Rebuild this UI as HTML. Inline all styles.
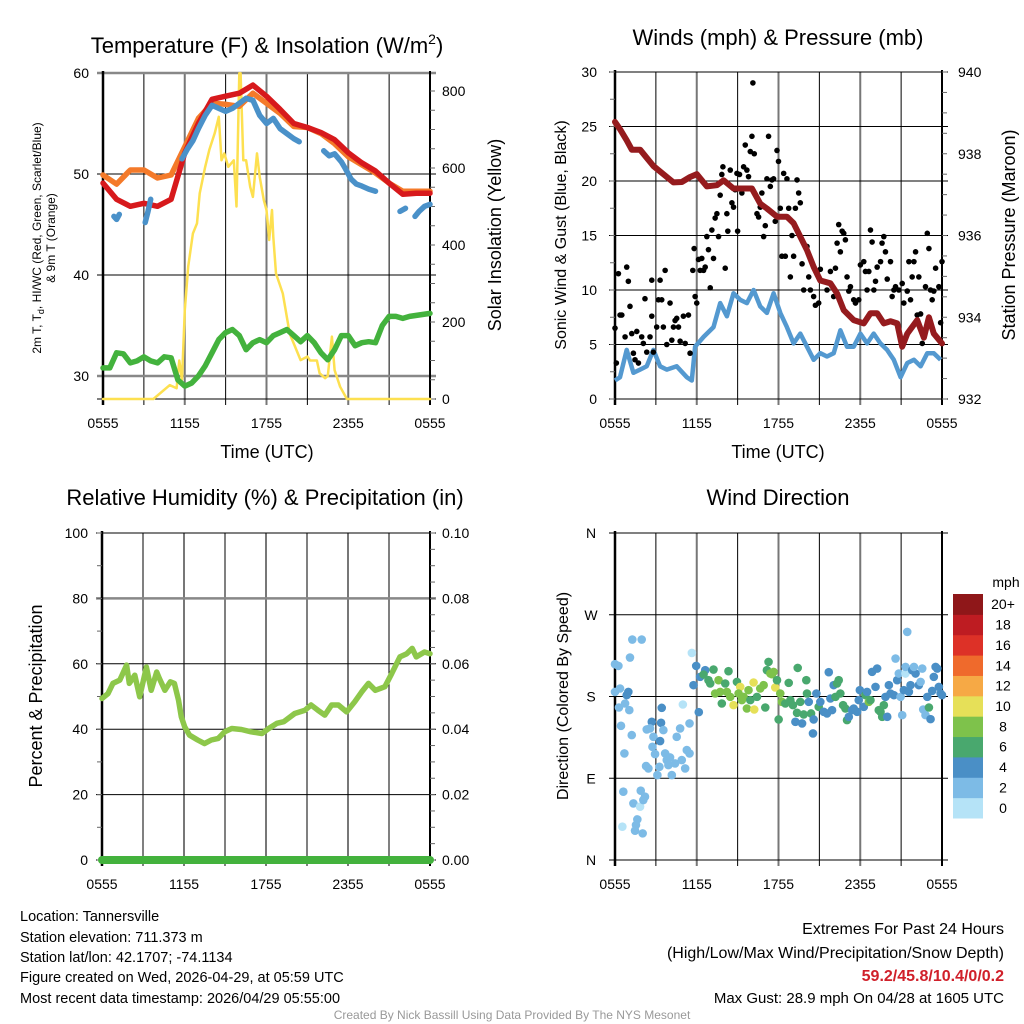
<!DOCTYPE html>
<html><head><meta charset="utf-8">
<style>
html,body{margin:0;padding:0;background:#fff;}
svg{display:block;font-family:"Liberation Sans",Arial,sans-serif;}
</style></head>
<body>
<svg id="chart" width="1024" height="1024" viewBox="0 0 1024 1024" xmlns="http://www.w3.org/2000/svg">
<rect width="1024" height="1024" fill="#fff"/>
<g id="g1"></g>
<g id="g2"></g>
<g id="g3"></g>
<g id="g4"></g>
<g font-size="22" text-anchor="middle" fill="#000">
<text x="267" y="53">Temperature (F) &amp; Insolation (W/m<tspan font-size="14" dy="-9">2</tspan><tspan dy="9">)</tspan></text>
<text x="778" y="45">Winds (mph) &amp; Pressure (mb)</text>
<text x="265" y="505">Relative Humidity (%) &amp; Precipitation (in)</text>
<text x="778" y="505">Wind Direction</text>
</g>
<g font-size="14.5" fill="#000">
<text x="20" y="921">Location: Tannersville</text>
<text x="20" y="942">Station elevation: 711.373 m</text>
<text x="20" y="962">Station lat/lon: 42.1707; -74.1134</text>
<text x="20" y="982">Figure created on Wed, 2026-04-29, at 05:59 UTC</text>
<text x="20" y="1003">Most recent data timestamp: 2026/04/29 05:55:00</text>
</g>
<g font-size="16" text-anchor="end" fill="#000">
<text x="1004" y="934">Extremes For Past 24 Hours</text>
<text x="1004" y="958">(High/Low/Max Wind/Precipitation/Snow Depth)</text>
<text x="1004" y="981" fill="#d0202a" font-weight="bold">59.2/45.8/10.4/0/0.2</text>
<text x="1004" y="1003" font-size="15">Max Gust: 28.9 mph On 04/28 at 1605 UTC</text>
</g>
<text x="512" y="1019" font-size="12" fill="#999" text-anchor="middle">Created By Nick Bassill Using Data Provided By The NYS Mesonet</text>
</svg>
<script>
// ---------- Panel 1 data ----------
const tempT=[0,1,2,3,4,5,6,7,8,9,10,11,12,13,14,15,16,17,18,19,20,21,22,23,24];
const tempV=[49.1,47.5,46.8,47.1,46.8,47.5,52.1,55,57.4,57.7,58,58.8,57.7,56.4,55,54.6,54.1,53.4,52.1,51.1,50.3,49.1,48,48.1,48.1];
const t9mV=[49.9,49,50.4,50.4,49.6,49.9,52.7,55.5,57,56.9,56.7,58,57,56,54.7,54.6,54,53,51.7,50.9,50.1,49.1,48.3,48.3,48.3];
const hiT=[0.8,1.0,1.2,1.3,3.1,3.3,3.5,3.6,5.8,6.2,6.6,7,7.5,8,8.5,9,9.5,10,10.5,11,11.5,12,12.5,13,13.5,14,14.4,14.5,16.2,16.6,17,17.5,17.8,18.2,18.6,19,19.5,20,20.1,21.8,22.2,22.3,22.9,23.2,23.6,24];
const hiV=[45.8,45.5,46.0,null,45.2,46.3,47.5,null,51.5,52.5,53.3,54.5,55.8,56.8,56.5,56.2,56.5,57,57.5,57.3,55.8,55,55.5,54.5,54,53.5,53.2,null,52.3,51.8,52,51.2,50.5,49.5,49,48.8,48.5,48.3,null,46.3,46.6,null,45.8,46.3,46.8,47.0];
const dewT=[0,0.5,1,1.5,2,2.5,3,3.5,4,4.5,5,5.5,6,6.5,7,7.5,8,8.5,9,9.5,10,10.5,11,11.5,12,12.5,13,13.5,14,14.5,15,15.5,16,16.5,17,17.5,18,18.5,19,19.5,20,20.5,21,21.5,22,22.5,23,24];
const dewV=[30.8,30.8,32.3,32.2,31.3,31.5,31.9,31.5,31.3,31.9,31.8,29.6,29,29.3,30,31,32.3,33.6,34.3,34.6,34,32.6,33.3,33.6,33.3,34,34.3,34.6,34,33.4,34,33.3,32.3,31.6,32.6,34,34,33,33.3,33.4,33.3,35,35.9,35.9,35.7,35.9,36,36.2];
const solT=[0,3.7,4.9,5.4,5.6,5.8,6.0,6.25,6.6,6.9,7.1,7.5,7.8,8.2,8.5,8.7,8.9,9.2,9.6,9.8,10.0,10.1,10.3,10.5,10.8,11.0,11.3,11.5,11.8,12.0,12.2,12.4,12.5,12.7,13.2,13.7,14.5,15.0,15.2,15.7,15.9,16.3,16.5,16.8,17.0,17.4,17.9,24];
const solV=[0,0,36,28,100,50,231,344,430,456,534,603,647,690,733,620,638,603,620,500,846,846,620,620,551,525,638,577,517,491,413,491,421,326,274,170,101,110,100,100,67,54,60,162,75,32,0,0];
const xTickLabels=["0555","1155","1755","2355","0555"];
// ---------- Panel 2 data ----------
const presT=[0,0.37,0.86,1.23,1.84,2.33,2.82,3.55,4.29,4.9,5.51,6.0,6.74,7.48,7.97,8.7,9.44,10.05,10.66,11.15,11.89,12.62,13.11,13.6,14.09,14.58,15.07,15.81,16.3,16.79,17.52,18.26,18.75,19.24,19.73,20.22,20.71,21.08,21.45,22.18,22.67,23.04,23.4,24];
const presV=[938.78,938.6,938.33,938.1,938.1,937.9,937.7,937.5,937.3,937.31,937.43,937.5,937.2,937.23,937.35,937.15,937.15,937.15,936.78,936.66,936.46,936.46,936.3,935.97,935.64,935.23,934.9,934.83,934.58,934.17,933.93,933.85,934.1,934.1,933.85,933.9,933.85,933.28,933.6,933.93,933.5,934.0,933.6,933.36];
const windT=[0,0.37,0.86,1.35,1.84,2.33,2.82,3.31,3.8,4.53,5.27,5.64,5.88,6.5,7.23,7.72,8.21,8.7,9.19,9.68,10.17,10.66,11.15,11.64,12.13,12.62,13.11,13.6,14.09,14.58,15.07,15.56,16.05,16.54,17.03,17.52,18.01,18.5,18.99,19.48,19.97,20.46,20.96,21.45,21.94,22.43,22.92,23.4,23.9];
const windV=[1.7,2,4.5,2.4,2.7,3,4.5,3,2.7,3,2,1.7,4.8,5.7,6.6,8.8,7.6,9.7,9.1,8.8,10,8.5,7.9,9.7,7.9,6.6,5.1,6,4.8,3.6,4.2,3.9,4.2,6.3,4.8,4.8,6,5.1,6,5.1,4.5,3.6,2,3.3,3.6,3,4.2,4.2,3.6];
const gustT=[0,0.1,0.25,0.37,0.5,0.74,0.86,0.98,1.1,1.23,1.35,1.47,1.6,1.72,1.96,2.08,2.2,2.33,2.57,2.7,2.7,2.82,3.06,3.19,3.31,3.43,3.55,3.68,3.8,4.04,4.17,4.29,4.41,4.53,4.66,4.78,5.02,5.15,5.39,5.51,5.71,5.81,5.88,6.0,6.13,6.25,6.37,6.5,6.62,6.74,6.86,6.99,7.11,7.23,7.35,7.48,7.6,7.72,7.84,7.92,8.09,8.21,8.28,8.46,8.58,8.7,8.82,8.95,9.0,9.14,9.31,9.44,9.56,9.68,9.8,9.93,10.05,10.12,10.22,10.42,10.54,10.66,10.78,10.91,11.03,11.15,11.27,11.4,11.52,11.64,11.76,11.89,12.0,12.13,12.25,12.38,12.5,12.62,12.75,12.87,12.99,13.11,13.24,13.36,13.48,13.6,13.73,13.85,14.09,14.22,14.34,14.58,14.71,14.95,15.07,15.56,15.81,16.05,16.18,16.3,16.42,16.54,16.67,16.79,16.91,17.03,17.16,17.28,17.52,17.65,17.89,18.01,18.26,18.38,18.5,18.63,18.75,18.87,19.0,19.12,19.24,19.49,19.6,19.73,19.85,19.98,20.22,20.34,20.47,20.59,20.83,21.08,21.2,21.45,21.57,21.69,21.81,21.94,22.06,22.18,22.3,22.43,22.55,22.79,22.92,23.04,23.16,23.28,23.4,23.53,23.77,23.9,24];
const gustV=[6.5,3.3,11.5,7.7,7.7,5.7,12.1,10.8,8.5,6.0,4.2,3.6,6.2,3.3,5.7,5.1,9.2,4.3,5.7,10.9,7.6,4.3,6.6,9.1,10.9,9.1,6.6,11.8,5.0,8.8,5.4,6.6,7.2,7.4,6.6,5.3,7.6,5.1,7.7,4.2,11.8,13.8,9.4,8.8,12.8,11.8,12.9,11.8,12.1,14.9,13.7,10.2,15.5,12.9,16.6,17.0,14.9,18.7,20.6,21.3,12.0,17.0,15.4,21.0,18.0,17.6,19.2,20.7,15.4,20.6,18.9,21.3,23.3,21.0,20.4,22.7,24.1,29.0,22.5,17.0,16.7,17.6,18.9,14.9,15.9,20.2,24.1,19.5,20.1,20.2,16.3,22.8,21.8,17.5,13.1,20.7,13.1,20.2,17.5,11.2,15.0,13.1,17.5,20.1,18.9,18.0,12.4,10.0,14.0,11.2,10.0,9.4,8.6,8.8,11.9,10.0,11.7,9.4,12.0,14.3,16.0,13.5,15.4,15.2,14.6,11.2,9.9,10.3,9.1,8.8,9.1,12.3,12.6,11.7,10.0,11.7,15.5,14.4,10.0,10.8,12.1,12.6,14.3,14.9,13.5,11.0,12.6,9.4,10.0,10.3,10.0,10.6,8.8,9.9,12.6,9.1,11.2,12.6,13.5,7.7,11.2,7.8,5.1,10.3,15.2,13.8,10.0,9.1,9.9,12.0,10.3,7.0,12.6];
// ---------- Panel 3 data ----------
const rhT=[0,0.44,0.8,1.3,1.8,2.0,2.4,2.76,3.25,3.6,4,4.2,4.6,5,5.3,5.6,5.8,6.05,6.4,7.0,7.5,8.0,8.5,8.98,9.5,10.2,10.9,11.7,12.2,12.8,13.3,14.1,14.85,15.3,15.8,16.3,16.8,17.3,17.9,18.5,19.0,19.5,20,20.7,21.2,21.8,22.3,22.7,23.0,23.6,24];
const rhV=[49.4,50.9,54,55,59.6,54,56.5,49.9,59,51.9,57.5,55.5,51.9,54.5,54,48.9,43.8,40.7,38.2,36.7,35.6,36.7,37.2,39.2,40.2,39.9,39.2,38.7,40.2,41.8,42.3,44.8,45.8,47.4,45.8,44.3,47.4,47.4,45.3,48.4,51.4,54,51.9,53,57,62.1,63.1,64.7,62.1,63.6,63.1];
const precipT=[0,24];
const precipV=[0,0];
// ---------- Panel 4 data ----------
const dirT=[0,0.25,0,0.37,0.98,0.86,0.29,0.74,1.05,1.1,1.27,1.96,0.44,1.23,0.69,0.61,1.89,1.35,1.84,2.2,2.08,1.64,1.54,1.47,2.03,0.54,2.7,2.33,2.57,2.82,3.38,3.43,3.31,2.75,2.94,2.28,2.45,3.11,3.26,3.55,3.68,3.8,4.04,4.17,3.92,4.41,4.53,4.78,4.9,5.15,5.27,5.47,5.47,5.64,4.98,
5.96,5.76,6.15,6.25,6.62,6.5,6.86,7.23,6.99,7.35,7.6,7.72,7.84,8.09,8.21,8.33,8.46,8.7,8.95,9.19,9.07,9.31,9.44,9.68,9.8,9.93,10.17,10.22,10.42,10.66,10.91,11.03,11.15,11.27,11.4,11.52,11.64,11.76,11.89,12.01,12.13,12.25,12.5,12.75,12.87,13.06,13.24,13.36,13.41,13.6,13.73,13.85,14.04,14.09,14.22,14.39,14.53,14.58,14.78,14.95,15.07,15.32,15.56,15.69,15.81,15.93,16.05,16.18,16.3,16.42,16.54,16.74,16.91,17.03,17.16,17.4,17.52,17.77,17.89,17.97,18.26,18.38,18.5,18.63,18.75,18.87,19.12,19.24,19.36,19.61,19.49,19.73,19.85,19.98,20.1,20.22,20.47,20.59,20.71,20.83,20.96,21.08,21.2,21.32,21.45,21.32,21.57,21.69,21.81,22.06,21.94,22.3,22.43,22.55,22.62,22.79,22.92,23.04,23.16,23.28,23.4,23.53,23.65,23.77,23.9,24];
const dirV=[215.6,213.7,185.1,188.8,185.1,181.5,167.9,172.3,165.0,222.9,242.7,242.7,147.7,137.5,117.3,75.2,76.3,62.3,58.7,69.7,66.0,44.7,38.5,32.3,29.3,36.7,152.1,143.7,144.8,135.6,151.0,167.5,130.9,124.6,116.6,103.4,100.8,93.5,102.6,143.0,117.3,110.0,112.9,93.5,104.5,106.3,135.6,144.8,110.0,100.8,121.0,150.3,117.3,228.0,171.2,
213.7,192.5,162.8,201.6,209.0,204.2,198.0,209.7,194.3,183.3,198.0,185.1,172.3,194.3,185.1,207.9,179.6,170.5,196.1,190.6,183.3,176.0,179.6,166.8,187.0,176.0,195.4,165.7,179.6,188.8,192.5,167.9,209.0,218.1,205.3,204.6,207.1,189.9,198.0,154.7,183.3,174.1,172.3,195.0,176.0,170.5,152.1,162.0,211.5,174.1,150.3,160.2,198.0,183.3,174.1,161.3,139.3,154.7,183.3,168.6,174.1,163.1,161.3,206.8,177.8,165.0,192.5,179.6,194.3,198.0,183.3,170.5,166.8,154.0,157.6,165.0,166.8,163.1,176.0,187.0,168.6,181.5,185.1,174.1,176.0,207.1,190.6,210.8,165.0,157.6,163.1,170.5,179.6,157.6,192.5,183.3,181.5,221.8,198.0,205.3,179.6,159.5,187.0,205.3,251.1,212.6,185.1,192.5,209.0,205.3,212.6,192.5,196.1,210.8,165.7,159.5,179.6,167.9,155.1,186.2,201.6,212.6,210.8,190.6,183.3,181.5];
const dirSpd=[3,3,3,3,5,5,3,3,3,3,3,3,3,3,3,3,3,3,1,3,3,3,3,3,3,1,5,3,3,3,5,5,5,3,3,3,3,3,3,3,3,3,3,3,3,3,3,3,3,3,3,3,3,1,1,
5,5,5,5,5,7,7,7,7,9,9,9,7,7,9,7,9,11,7,11,9,9,9,9,9,7,11,11,7,9,9,7,7,7,9,9,9,11,7,7,9,9,7,7,7,7,5,7,7,7,5,7,7,7,5,7,5,5,5,7,5,5,5,5,5,5,5,7,7,7,7,7,7,7,5,5,5,5,5,5,5,7,5,9,7,5,5,5,7,7,7,7,5,5,5,5,5,3,5,3,3,3,5,1,3,3,5,5,5,5,3,5,3,3,3,3,5,7,5,5,5,5,5,5,5,5];
const spdBins=[0,2,4,6,8,10,12,14,16,18,20];
const spdLabels=["0","2","4","6","8","10","12","14","16","18","20+"];
const spdColors=["#b5e3f7","#7dbbe6","#4a8fc6","#49a86e","#7ec24b","#e6e058","#f6a945","#ef6a2c","#dd3127","#be1c22","#8f1719"];
const dirLabels=["N","E","S","W","N"];

const NS="http://www.w3.org/2000/svg";
function mk(parent,tag,attrs){const e=document.createElementNS(NS,tag);for(const k in attrs)e.setAttribute(k,attrs[k]);parent.appendChild(e);return e;}
function lin(d0,d1,r0,r1){return v=>r0+(v-d0)/(d1-d0)*(r1-r0);}
function pathOf(ts,vs,xs,ys){let d="",pen=false;for(let i=0;i<ts.length;i++){if(vs[i]===null){pen=false;continue;}d+=(pen?"L":"M")+xs(ts[i]).toFixed(1)+","+ys(vs[i]).toFixed(1);pen=true;}return d;}

function frame(g,X0,X1,Y0,Y1,hlines,grayH,xs){
  // vertical grid every 3 hours
  for(let h=0;h<=24;h+=3){const x=xs(h);const six=(h%6===0);
    const l=mk(g,"line",{x1:x,x2:x,y1:Y0,y2:Y1+6,stroke:six?"#777":"#000","stroke-width":six?2:1});
    
    }
  hlines.forEach((y,i)=>{const gr=grayH.indexOf(i)>=0;const l=mk(g,"line",{x1:X0-6,x2:X1+6,y1:y,y2:y,stroke:gr?"#888":"#000","stroke-width":gr?2.5:1});
    
    });
  const a=mk(g,"line",{x1:X0,x2:X0,y1:Y0-2,y2:Y1+6,stroke:"#000","stroke-width":2.5});
  
  
  const b=mk(g,"line",{x1:X1,x2:X1,y1:Y0-2,y2:Y1+6,stroke:"#000","stroke-width":2});
  
  
  xTickLabels.forEach((s,i)=>{const t=mk(g,"text",{x:xs(i*6),y:Y1+29,"font-size":14,"text-anchor":"middle"});t.textContent=s;
    
    });
}
function minorTicks(g,x,y0,y1,n,dir){for(let i=0;i<=n;i++){const y=y0+(y1-y0)*i/n;const l=mk(g,"line",{x1:x,x2:x+dir*5,y1:y,y2:y,stroke:"#666","stroke-width":1});
  
  }}
function label(g,x,y,s,size,anchor,name,rot){const t=mk(g,"text",{x:x,y:y,"font-size":size,"text-anchor":anchor||"middle"});if(rot)t.setAttribute("transform","rotate(-90 "+x+" "+y+")");t.textContent=s;
  
  return t;}

// ===== Panel 1 =====
(function(){const g=document.getElementById("g1");const X0=103,X1=430;
 const xs=lin(0,24,X0,X1);const ys=lin(30,60,376,73);const yr=lin(0,800,399,91);
 frame(g,X0,X1,73,399,[ys(60),ys(50),ys(40),ys(30),399],[0,3],xs);
 minorTicks(g,X1,yr(0),yr(800),16,1);
 [30,40,50,60].forEach(v=>label(g,X0-14,ys(v)+5,String(v),14,"end","left-tick-label"));
 [0,200,400,600,800].forEach(v=>label(g,X1+12,yr(v)+5,String(v),14,"start","right-tick-label"));
 const ttl=mk(g,"text",{x:41,y:238,"font-size":12,"text-anchor":"middle",transform:"rotate(-90 41 238)"});
 ttl.innerHTML='2m T, T<tspan font-size="9" dy="3">d</tspan><tspan dy="-3">, HI/WC (Red, Green, Scarlet/Blue)</tspan>';
 
 
 label(g,55,238,"& 9m T (Orange)",12,"middle","left-axis-title-line2",true);
 label(g,501,235,"Solar Insolation (Yellow)",18,"middle","right-axis-title",true);
 label(g,267,458,"Time (UTC)",18,"middle","x-axis-title");
 const series=[[solT,solV,yr,"#fde050",2.5,"solar-line"],[dewT,dewV,ys,"#43b23d",5.5,"dewpoint-line"],[tempT,t9mV,ys,"#f47a2a",5.5,"temp-9m-line"],[tempT,tempV,ys,"#d7191c",5.5,"temp-2m-line"],[hiT,hiV,ys,"#4a91c9",5.5,"heat-index-line"]];
 series.forEach(s=>{const p=mk(g,"path",{d:pathOf(s[0],s[1],xs,s[2]),fill:"none",stroke:s[3],"stroke-width":s[4],"stroke-linejoin":"round","stroke-linecap":"round"});
  
  });
})();

// ===== Panel 2 =====
(function(){const g=document.getElementById("g2");const X0=615,X1=942;
 const xs=lin(0,24,X0,X1);const ys=lin(0,30,399,72);const yp=lin(932,940,399,72);
 frame(g,X0,X1,72,399,[0,5,10,15,20,25,30].map(ys),[],xs);
 minorTicks(g,X0,ys(0),ys(30),12,-1);minorTicks(g,X1,yp(932),yp(940),16,1);
 [0,5,10,15,20,25,30].forEach(v=>label(g,X0-18,ys(v)+5,String(v),14,"end","left-tick-label"));
 [932,934,936,938,940].forEach(v=>label(g,X1+16,yp(v)+5,String(v),14,"start","right-tick-label"));
 label(g,566,235,"Sonic Wind & Gust (Blue, Black)",16,"middle","left-axis-title",true);
 label(g,1015,235,"Station Pressure (Maroon)",18,"middle","right-axis-title",true);
 label(g,778,458,"Time (UTC)",18,"middle","x-axis-title");
 const w=mk(g,"path",{d:pathOf(windT,windV,xs,ys),fill:"none",stroke:"#5499d0","stroke-width":4.5,"stroke-linejoin":"round"});
 
 
 gustT.forEach((t,i)=>{const c=mk(g,"circle",{cx:xs(t),cy:ys(gustV[i]),r:2.8,fill:"#000"});
  
  });
 const p=mk(g,"path",{d:pathOf(presT,presV,xs,yp),fill:"none",stroke:"#951b1e","stroke-width":6,"stroke-linejoin":"round","stroke-linecap":"round"});
 
 
})();

// ===== Panel 3 =====
(function(){const g=document.getElementById("g3");const X0=102,X1=430;
 const xs=lin(0,24,X0,X1);const ys=lin(0,100,860,533);const yr=lin(0,0.1,860,533);
 frame(g,X0,X1,533,860,[0,20,40,60,80,100].map(ys),[4],xs);
 minorTicks(g,X0,ys(0),ys(100),10,-1);minorTicks(g,X1,yr(0),yr(0.1),20,1);
 [0,20,40,60,80,100].forEach(v=>label(g,X0-14,ys(v)+5,String(v),14,"end","left-tick-label"));
 ["0.00","0.02","0.04","0.06","0.08","0.10"].forEach(s=>label(g,X1+12,yr(parseFloat(s))+5,s,14,"start","right-tick-label"));
 label(g,42,696,"Percent & Precipitation",18,"middle","left-axis-title",true);
 const r=mk(g,"path",{d:pathOf(rhT,rhV,xs,ys),fill:"none",stroke:"#8dc74a","stroke-width":5.5,"stroke-linejoin":"round","stroke-linecap":"round"});
 
 
 const pr=mk(g,"path",{d:pathOf(precipT,precipV,xs,yr),fill:"none",stroke:"#43b23d","stroke-width":8,"stroke-linecap":"round"});
 
 
})();

// ===== Panel 4 =====
(function(){const g=document.getElementById("g4");const X0=615,X1=942;
 const xs=lin(0,24,X0,X1);const ys=lin(0,360,860,533);
 frame(g,X0,X1,533,860,[0,90,180,270,360].map(ys),[],xs);
 dirLabels.forEach((s,i)=>label(g,X0-24,ys(i*90)+5,s,14,"middle","direction-label"));
 label(g,568,696,"Direction (Colored By Speed)",16,"middle","left-axis-title",true);
 function col(s){let k=0;for(let i=0;i<spdBins.length;i++)if(s>=spdBins[i])k=i;return spdColors[k];}
 dirT.forEach((t,i)=>{const c=mk(g,"circle",{cx:xs(t),cy:ys(dirV[i]),r:4.3,fill:col(dirSpd[i])});
  
  });
 // colorbar
 const cb=mk(g,"g",{});
 
 
 const top=594,bot=818,h=(bot-top)/spdColors.length;
 spdColors.forEach((c,i)=>{const y=bot-(i+1)*h;const r=mk(cb,"rect",{x:953,y:y,width:30,height:h+0.5,fill:c});
  
  
  label(cb,1003,y+h/2+5,spdLabels[i],14,"middle","colorbar-label");});
 label(cb,1006,587,"mph",14,"middle","colorbar-title");
})();
</script>
</body></html>
